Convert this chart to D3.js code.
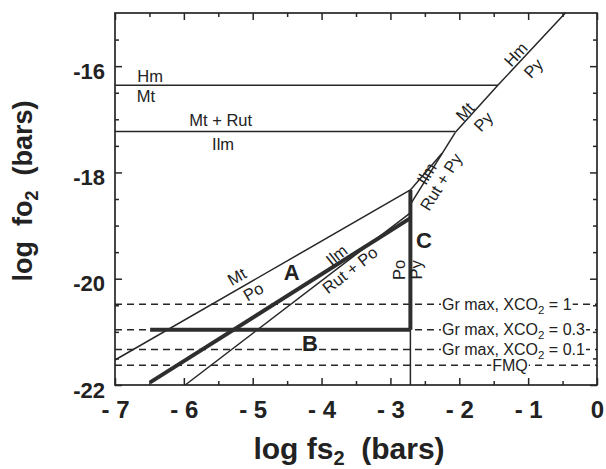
<!DOCTYPE html>
<html><head><meta charset="utf-8">
<script src="https://cdn.jsdelivr.net/npm/d3@7"></script>
<style>body{margin:0;background:#fff}svg{display:block}text{font-family:'Liberation Sans',Arial,Helvetica,sans-serif;fill:#222}</style>
</head><body>
<svg id="c" width="606" height="469"></svg>
<script>
// ---- data ----
const xTicks = [-7, -6, -5, -4, -3, -2, -1, 0];
const xMinor = [-6.5, -5.5, -4.5, -3.5, -2.5, -1.5, -0.5];
const yTicks = [-16, -18, -20, -22];
const yMinor = [-15.5, -16.5, -17, -17.5, -18.5, -19, -19.5, -20.5, -21, -21.5];
// phase boundaries, [log fS2, log fO2]
const hmMt      = [[-7, -16.36], [-1.44, -16.36]];
const mtRutIlm  = [[-7, -17.23], [-2.06, -17.23]];
const pyLine    = [[-2.06, -17.25], [-1.44, -16.36], [-0.46, -15]];
const ilmRutPy  = [[-2.71, -18.6], [-2.06, -17.25]];
const ilmRutPy2 = [[-2.71, -18.33], [-2.25, -17.64]];
const mtPo      = [[-7, -21.53], [-2.71, -18.33]];
const ilmRutPo  = [[-5.98, -22], [-2.71, -18.76]];
const poPy      = [[-2.71, -18.33], [-2.71, -22]];
// heavy paths A, B, C
const pathA = [[-6.49, -21.95], [-2.71, -18.86]];
const pathB = [[-6.49, -20.96], [-2.71, -20.96]];
const pathC = [[-2.71, -20.96], [-2.71, -18.33]];
// dashed reference levels
const refLevels = [-20.48, -20.96, -21.33, -21.63];
const refXco2   = ["1", "0.3", "0.1", null];

// ---- layout ----
const svg = d3.select("#c");
const x = d3.scaleLinear().domain([-7, 0]).range([115, 597]);
const y = d3.scaleLinear().domain([-22, -15]).range([385, 13]);
const line = d3.line().x(d => x(d[0])).y(d => y(d[1]));
const ink = "#262626";

// dashed lines
const g0 = svg.append("g");
refLevels.forEach(v => {
  g0.append("line").attr("x1", x(-7)).attr("x2", x(0)).attr("y1", y(v)).attr("y2", y(v))
    .attr("stroke", ink).attr("stroke-width", 1.5).attr("stroke-dasharray", "7,5");
});

// thin boundaries
[hmMt, mtRutIlm, pyLine, ilmRutPy, ilmRutPy2, mtPo, ilmRutPo, poPy].forEach(d => {
  svg.append("path").attr("d", line(d)).attr("fill", "none").attr("stroke", ink).attr("stroke-width", 1.5);
});
// heavy
[pathA, pathB, pathC].forEach(d => {
  svg.append("path").attr("d", line(d)).attr("fill", "none").attr("stroke", "#2e2e2e").attr("stroke-width", 4);
});

// reference labels with white backing
refLevels.forEach((v, i) => {
  const g = svg.append("g");
  const t = g.append("text").attr("font-size", 16).attr("dy", "0.35em").attr("y", y(v));
  if (refXco2[i] !== null) {
    t.attr("x", 442).attr("text-anchor", "start");
    t.append("tspan").text("Gr max, XCO");
    t.append("tspan").text("2").attr("font-size", 11.5).attr("dy", 4);
    t.append("tspan").text(" = " + refXco2[i]).attr("dy", -4);
  } else {
    t.attr("x", 510).attr("text-anchor", "middle").text("FMQ");
  }
  const b = t.node().getBBox();
  g.insert("rect", "text").attr("x", b.x - 1).attr("y", y(v) - 3).attr("width", b.width + 2).attr("height", 6).attr("fill", "#fff");
});

// frame
svg.append("rect").attr("x", x(-7)).attr("y", y(-15)).attr("width", x(0) - x(-7)).attr("height", y(-22) - y(-15))
  .attr("fill", "none").attr("stroke", ink).attr("stroke-width", 1.7);

// axes (inward ticks)
const fmtX = d => d === 0 ? "0" : "- " + Math.abs(d);
function styleAxis(g) { g.select(".domain").remove(); g.selectAll("line").attr("stroke", ink).attr("stroke-width", 1.5); }
svg.append("g").attr("transform", `translate(0,${y(-22)})`)
  .call(d3.axisBottom(x).tickValues(xTicks).tickSize(-7).tickPadding(16).tickFormat(fmtX)).call(styleAxis)
  .selectAll("text").attr("font-size", 24).attr("font-weight", "bold").attr("fill", "#222")
  .attr("font-family", "'Liberation Sans',Arial,sans-serif");
svg.append("g").attr("transform", `translate(0,${y(-22)})`)
  .call(d3.axisBottom(x).tickValues(xMinor).tickSize(-4).tickFormat("")).call(styleAxis);
svg.append("g").attr("transform", `translate(0,${y(-15)})`)
  .call(d3.axisTop(x).tickValues(xTicks).tickSize(-7).tickFormat("")).call(styleAxis);
svg.append("g").attr("transform", `translate(0,${y(-15)})`)
  .call(d3.axisTop(x).tickValues(xMinor).tickSize(-4).tickFormat("")).call(styleAxis);
svg.append("g").attr("transform", `translate(${x(-7)},0)`)
  .call(d3.axisLeft(y).tickValues(yTicks).tickSize(-7).tickPadding(10).tickFormat(d => d)).call(styleAxis)
  .selectAll("text").attr("font-size", 22).attr("font-weight", "bold").attr("fill", "#222").attr("dy", "0.55em")
  .attr("font-family", "'Liberation Sans',Arial,sans-serif");
svg.append("g").attr("transform", `translate(${x(-7)},0)`)
  .call(d3.axisLeft(y).tickValues(yMinor).tickSize(-4).tickFormat("")).call(styleAxis);
svg.append("g").attr("transform", `translate(${x(0)},0)`)
  .call(d3.axisRight(y).tickValues(yTicks).tickSize(-7).tickFormat("")).call(styleAxis);
svg.append("g").attr("transform", `translate(${x(0)},0)`)
  .call(d3.axisRight(y).tickValues(yMinor).tickSize(-4).tickFormat("")).call(styleAxis);

// field labels
const labels = [
  {t: "Hm", x: -6.49, y: -16.19, r: 0},
  {t: "Mt", x: -6.55, y: -16.575, r: 0},
  {t: "Mt + Rut", x: -5.465, y: -17.01, r: 0},
  {t: "Ilm", x: -5.43, y: -17.47, r: 0},
  {t: "Mt", x: -5.23, y: -19.96, r: -30},
  {t: "Po", x: -4.99, y: -20.245, r: -30},
  {t: "Ilm", x: -3.78, y: -19.555, r: -38},
  {t: "Rut + Po", x: -3.587, y: -19.837, r: -38},
  {t: "Po", x: -2.876, y: -19.836, r: -90},
  {t: "Py", x: -2.62, y: -19.836, r: -90},
  {t: "Ilm", x: -2.475, y: -18.02, r: -58},
  {t: "Rut + Py", x: -2.266, y: -18.18, r: -58},
  {t: "Mt", x: -1.917, y: -16.857, r: -47},
  {t: "Py", x: -1.65, y: -17.045, r: -47},
  {t: "Hm", x: -1.18, y: -15.78, r: -47},
  {t: "Py", x: -0.926, y: -16.04, r: -47}
];
labels.forEach(l => {
  svg.append("text").attr("text-anchor", "middle").attr("dy", "0.35em").attr("font-size", 16.5)
    .attr("transform", `translate(${x(l.x)},${y(l.y)}) rotate(${l.r})`).text(l.t);
});
const big = [{t: "A", x: -4.434, y: -19.87}, {t: "B", x: -4.168, y: -21.216}, {t: "C", x: -2.513, y: -19.27}];
big.forEach(l => {
  svg.append("text").attr("text-anchor", "middle").attr("dy", "0.36em").attr("font-size", 22).attr("font-weight", "bold")
    .attr("x", x(l.x)).attr("y", y(l.y)).text(l.t);
});

// axis titles
const xt = svg.append("text").attr("x", 349).attr("y", 459).attr("text-anchor", "middle")
  .attr("font-size", 30).attr("font-weight", "bold").style("white-space", "pre");
xt.append("tspan").text("log fs");
xt.append("tspan").text("2").attr("font-size", 20).attr("dy", 6);
xt.append("tspan").text("  (bars)").attr("dy", -6);

const yt = svg.append("text").attr("transform", "translate(32,191) rotate(-90)").attr("text-anchor", "middle")
  .attr("font-size", 27).attr("font-weight", "bold").style("white-space", "pre");
yt.append("tspan").text("log  fo");
yt.append("tspan").text("2").attr("font-size", 18).attr("dy", 6);
yt.append("tspan").text("  (bars)").attr("dy", -6);
</script>
</body></html>
